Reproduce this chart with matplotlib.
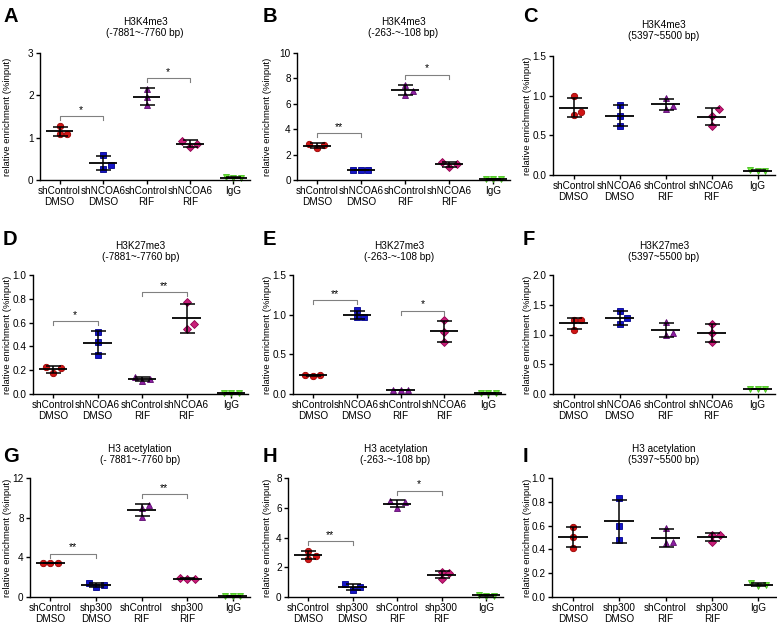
import matplotlib.pyplot as plt
import numpy as np

plt.rcParams['font.family'] = ['Liberation Sans', 'DejaVu Sans']

# x categories
groups_ncoa6 = ['shControl\nDMSO', 'shNCOA6\nDMSO', 'shControl\nRIF', 'shNCOA6\nRIF', 'IgG']
groups_p300 = ['shControl\nDMSO', 'shp300\nDMSO', 'shControl\nRIF', 'shp300\nRIF', 'IgG']

# replicate values (% input), 5 groups x 3 replicates per panel
a_vals = [[1.27, 1.08, 1.09], [0.58, 0.36, 0.26], [2.16, 1.97, 1.76], [0.93, 0.86, 0.77], [0.05, 0.05, 0.06]]
b_vals = [[2.85, 2.50, 2.75], [0.78, 0.80, 0.82], [7.50, 6.70, 7.00], [1.40, 1.05, 1.25], [0.05, 0.06, 0.07]]
c_vals = [[0.99, 0.76, 0.80], [0.88, 0.74, 0.62], [0.97, 0.87, 0.83], [0.83, 0.75, 0.62], [0.05, 0.05, 0.06]]
d_vals = [[0.225, 0.22, 0.175], [0.525, 0.44, 0.33], [0.14, 0.11, 0.125], [0.775, 0.59, 0.545], [0.01, 0.01, 0.012]]
e_vals = [[0.245, 0.23, 0.235], [1.06, 0.965, 0.97], [0.05, 0.05, 0.055], [0.93, 0.78, 0.66], [0.01, 0.01, 0.012]]
f_vals = [[1.245, 1.245, 1.08], [1.39, 1.27, 1.17], [1.21, 0.99, 1.03], [1.18, 1.02, 0.88], [0.08, 0.08, 0.09]]
g_vals = [[3.42, 3.40, 3.40], [1.45, 1.05, 1.20], [9.30, 9.00, 8.10], [1.90, 1.78, 1.82], [0.10, 0.12, 0.10]]
h_vals = [[3.10, 2.55, 2.78], [0.88, 0.45, 0.65], [6.45, 6.00, 6.38], [1.70, 1.22, 1.58], [0.10, 0.10, 0.11]]
i_vals = [[0.585, 0.505, 0.415], [0.83, 0.595, 0.48], [0.58, 0.45, 0.46], [0.525, 0.52, 0.465], [0.115, 0.09, 0.10]]

# significance (group i, group j, label)
a_sig = [(0, 1, '*'), (2, 3, '*')]
b_sig = [(0, 1, '**'), (2, 3, '*')]
d_sig = [(0, 1, '*'), (2, 3, '**')]
e_sig = [(0, 1, '**'), (2, 3, '*')]
g_sig = [(0, 1, '**'), (2, 3, '**')]
h_sig = [(0, 1, '**'), (2, 3, '*')]

a_ticks = [0, 1, 2, 3]
b_ticks = [0, 2, 4, 6, 8, 10]
c_ticks = [0.0, 0.5, 1.0, 1.5]
d_ticks = [0.0, 0.2, 0.4, 0.6, 0.8, 1.0]
e_ticks = [0.0, 0.5, 1.0, 1.5]
f_ticks = [0.0, 0.5, 1.0, 1.5, 2.0]
g_ticks = [0, 4, 8, 12]
h_ticks = [0, 2, 4, 6, 8]
i_ticks = [0.0, 0.2, 0.4, 0.6, 0.8, 1.0]

panels = [
    ('A', 'H3K4me3\n(-7881~-7760 bp)', groups_ncoa6, a_vals, a_ticks, a_sig, '%d'),
    ('B', 'H3K4me3\n(-263-~-108 bp)', groups_ncoa6, b_vals, b_ticks, b_sig, '%d'),
    ('C', 'H3K4me3\n(5397~5500 bp)', groups_ncoa6, c_vals, c_ticks, [], '%.1f'),
    ('D', 'H3K27me3\n(-7881~-7760 bp)', groups_ncoa6, d_vals, d_ticks, d_sig, '%.1f'),
    ('E', 'H3K27me3\n(-263-~-108 bp)', groups_ncoa6, e_vals, e_ticks, e_sig, '%.1f'),
    ('F', 'H3K27me3\n(5397~5500 bp)', groups_ncoa6, f_vals, f_ticks, [], '%.1f'),
    ('G', 'H3 acetylation\n(- 7881~-7760 bp)', groups_p300, g_vals, g_ticks, g_sig, '%d'),
    ('H', 'H3 acetylation\n(-263-~-108 bp)', groups_p300, h_vals, h_ticks, h_sig, '%d'),
    ('I', 'H3 acetylation\n(5397~5500 bp)', groups_p300, i_vals, i_ticks, [], '%.1f'),
]

# axes boxes in pixels: left, right, top, bottom
boxes = [
    (40, 250, 53, 180), (297, 510, 53, 180), (553, 775, 56, 175),
    (33, 248, 275, 394), (293, 505, 275, 394), (553, 775, 275, 394),
    (30, 250, 478, 597), (288, 503, 478, 597), (552, 776, 478, 597),
]
col_x0 = [0, 260, 520]

colors = ['#d01515', '#1414c8', '#8c1fa0', '#c81e78', '#6ee838']
edges = ['#9a0000', '#00008c', '#5e0a70', '#900050', '#48c020']
markers = ['o', 's', '^', 'D', 'v']
msizes = [4.6, 4.4, 4.8, 3.8, 4.6]

W, H = 777, 625
fig = plt.figure(figsize=(W / 100, H / 100), dpi=100)


def swarm(ax, xc, vals, d_px):
    # simple beeswarm: spread points that would overlap
    tr = ax.transData
    x0 = tr.transform((xc, 0))[0]
    placed = []
    xs = [xc] * len(vals)
    for k in sorted(range(len(vals)), key=lambda k: vals[k]):
        yp = tr.transform((xc, vals[k]))[1]
        for off in [0, 1, -1, 2, -2]:
            xp = x0 + off * d_px
            if all((xp - px) ** 2 + (yp - py) ** 2 >= (0.95 * d_px) ** 2 for px, py in placed):
                break
        placed.append((xp, yp))
        xs[k] = tr.inverted().transform((xp, yp))[0]
    return xs


for n, (letter, title, labels, vals, ticks, sig, fmt) in enumerate(panels):
    l, r, t, b = boxes[n]
    ax = fig.add_axes([l / W, 1 - b / H, (r - l) / W, (b - t) / H])
    ymax = ticks[-1]
    ax.set_xlim(0.55, 5.38)
    ax.set_ylim(0, ymax)
    x = np.arange(1, 6)

    for g in range(5):
        v = np.array(vals[g])
        m = v.mean()
        sd = v.std(ddof=1)
        xs = swarm(ax, x[g], vals[g], 7.5)
        ax.plot(xs, v, linestyle='none', marker=markers[g], ms=msizes[g],
                mfc=colors[g], mec=edges[g], mew=0.6, zorder=2, clip_on=False)
        ax.errorbar(x[g], m, yerr=sd, fmt='none', ecolor='black', elinewidth=1.1,
                    capsize=5.4, capthick=1.1, zorder=3)
        ax.hlines(m, x[g] - 0.32, x[g] + 0.32, color='black', lw=1.3, zorder=4)

    # significance brackets
    ax_h = b - t
    tick_len = 4 / ax_h * ymax
    for i, j, lab in sig:
        top = max(max(max(vals[k]), np.mean(vals[k]) + np.std(vals[k], ddof=1)) for k in (i, j))
        yb = top + 0.08 * ymax
        ax.plot([x[i], x[i], x[j], x[j]], [yb - tick_len, yb, yb, yb - tick_len],
                color='#808080', lw=0.8, zorder=1)
        ax.annotate(lab, ((x[i] + x[j]) / 2, yb), xytext=(0, 1), textcoords='offset points',
                    ha='center', va='bottom', fontsize=7.5)

    for s in ['top', 'right']:
        ax.spines[s].set_visible(False)
    for s in ['left', 'bottom']:
        ax.spines[s].set_linewidth(1.0)
    ax.set_yticks(ticks)
    ax.set_yticklabels([fmt % tv for tv in ticks])
    ax.set_xticks(x)
    ax.set_xticklabels(labels, linespacing=1.05)
    ax.tick_params(axis='both', labelsize=7.2, length=3, width=1.0, pad=1.5)

    ax.set_title(title, fontsize=7.2, pad=11 if n >= 3 else 12, linespacing=1.15)

    cx = col_x0[n % 3]
    fig.text((cx + 8) / W, 1 - ((t + b) / 2) / H, 'relative enrichment (%input)',
             rotation=90, ha='center', va='center', fontsize=6.8)
    lt = [7, 7, 7, 230, 230, 230, 447, 447, 447][n]
    fig.text((cx + 3) / W, 1 - lt / H, letter, fontsize=14.5, fontweight='bold',
             ha='left', va='top')

fig.savefig('out.png', dpi=100)
